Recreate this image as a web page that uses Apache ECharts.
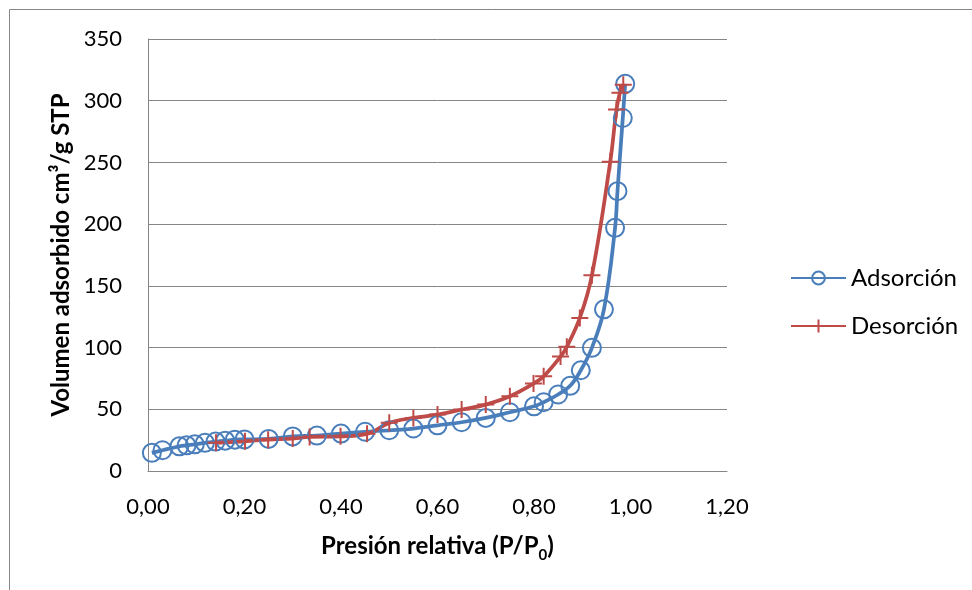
<!DOCTYPE html>
<html>
<head>
<meta charset="utf-8">
<script src="https://cdn.jsdelivr.net/npm/echarts@6/dist/echarts.min.js"></script>
<style>
html,body{margin:0;padding:0;background:#fff;}
#c{width:972px;height:590px;}
</style>
</head>
<body>
<div id="c"></div>
<script>
// Data
var adsX = [0.008, 0.03, 0.065, 0.08, 0.097, 0.118, 0.14, 0.16, 0.18, 0.20, 0.25, 0.30, 0.35, 0.40, 0.45, 0.50, 0.55, 0.60, 0.65, 0.70, 0.75, 0.80, 0.82, 0.85, 0.875, 0.897, 0.92, 0.945, 0.968, 0.973, 0.984, 0.989];
var adsY = [14.7, 16.8, 20, 20.8, 21.6, 22.8, 23.8, 24.6, 25.4, 25.6, 26, 28, 28.7, 30.3, 31.8, 33, 34.4, 37, 39.5, 43, 47.6, 52.4, 55.7, 62, 69, 81.6, 99.8, 131, 197, 226.7, 286, 313.7];
var desX = [0.141, 0.201, 0.249, 0.30, 0.335, 0.399, 0.454, 0.50, 0.55, 0.60, 0.65, 0.70, 0.75, 0.799, 0.82, 0.855, 0.868, 0.895, 0.92, 0.958, 0.971, 0.978, 0.985];
var desY = [22.8, 24.1, 25.4, 26.3, 27.6, 28.1, 30.1, 39, 43, 45.7, 49.8, 53.8, 60.5, 70.8, 76.7, 92.7, 100.6, 124, 158.5, 250.5, 292.9, 306.4, 313];
var seriesNames = ['Adsorción', 'Desorción'];
var xTitle = 'Presión relativa (P/P{sub|0})';
var yTitle = 'Volumen adsorbido cm³/g STP';

function zip(xs, ys) { return xs.map(function (x, i) { return [x, ys[i]]; }); }

var FONT = 'Lato';
var chart = echarts.init(document.getElementById('c'), null, {renderer: 'canvas'});
chart.setOption({
  animation: false,
  backgroundColor: '#ffffff',
  graphic: [{
    type: 'rect', silent: true, z: -10,
    shape: {x: 9.5, y: 9.5, width: 1200, height: 1200},
    style: {fill: null, stroke: '#868686', lineWidth: 1}
  }],
  grid: {left: 148, top: 39, width: 579, height: 432, containLabel: false},
  legend: {
    orient: 'vertical', left: 785, top: 260,
    itemWidth: 55, itemHeight: 16, itemGap: 22,
    textStyle: {fontFamily: FONT, fontSize: 24, lineHeight: 26, color: '#000'},
    data: seriesNames
  },
  xAxis: {
    type: 'value', min: 0, max: 1.2, interval: 0.2,
    name: xTitle, nameLocation: 'middle', nameGap: 62,
    nameTextStyle: {
      fontFamily: FONT, fontSize: 24, lineHeight: 26, fontWeight: 'bold', color: '#000',
      rich: {sub: {fontFamily: FONT, fontSize: 15, fontWeight: 'bold', color: '#000', verticalAlign: 'top', lineHeight: 10, padding: [15, 0, 0, 0]}}
    },
    axisLine: {show: true, lineStyle: {color: '#868686', width: 1}},
    axisTick: {show: false},
    splitLine: {show: false},
    axisLabel: {
      fontFamily: FONT, fontSize: 22, color: '#000', margin: 25,
      formatter: function (v) { return v.toFixed(2).replace('.', ','); }
    }
  },
  yAxis: {
    type: 'value', min: 0, max: 350, interval: 50,
    name: yTitle, nameLocation: 'middle', nameGap: 72, nameRotate: 90,
    nameTextStyle: {fontFamily: FONT, fontSize: 24, fontWeight: 'bold', color: '#000'},
    axisLine: {show: true, lineStyle: {color: '#868686', width: 1}},
    axisTick: {show: false},
    splitLine: {show: true, lineStyle: {color: '#868686', width: 1}},
    axisLabel: {fontFamily: FONT, fontSize: 22, color: '#000', margin: 26}
  },
  series: [{
    name: seriesNames[0], type: 'line', data: zip(adsX, adsY),
    smooth: 0.4, symbol: 'circle', symbolSize: 18, showAllSymbol: true,
    lineStyle: {color: '#4A7EBB', width: 3.75},
    itemStyle: {color: 'rgba(255,255,255,0)', borderColor: '#4A7EBB', borderWidth: 2}
  }, {
    name: seriesNames[1], type: 'line', data: zip(desX, desY),
    smooth: 0.4, symbol: 'path://M0,8L16,8M8,0L8,16', symbolSize: 17, showAllSymbol: true,
    lineStyle: {color: '#BE4B48', width: 3.75},
    itemStyle: {color: '#BE4B48', borderColor: '#BE4B48', borderWidth: 2}
  }]
});
</script>
</body>
</html>
